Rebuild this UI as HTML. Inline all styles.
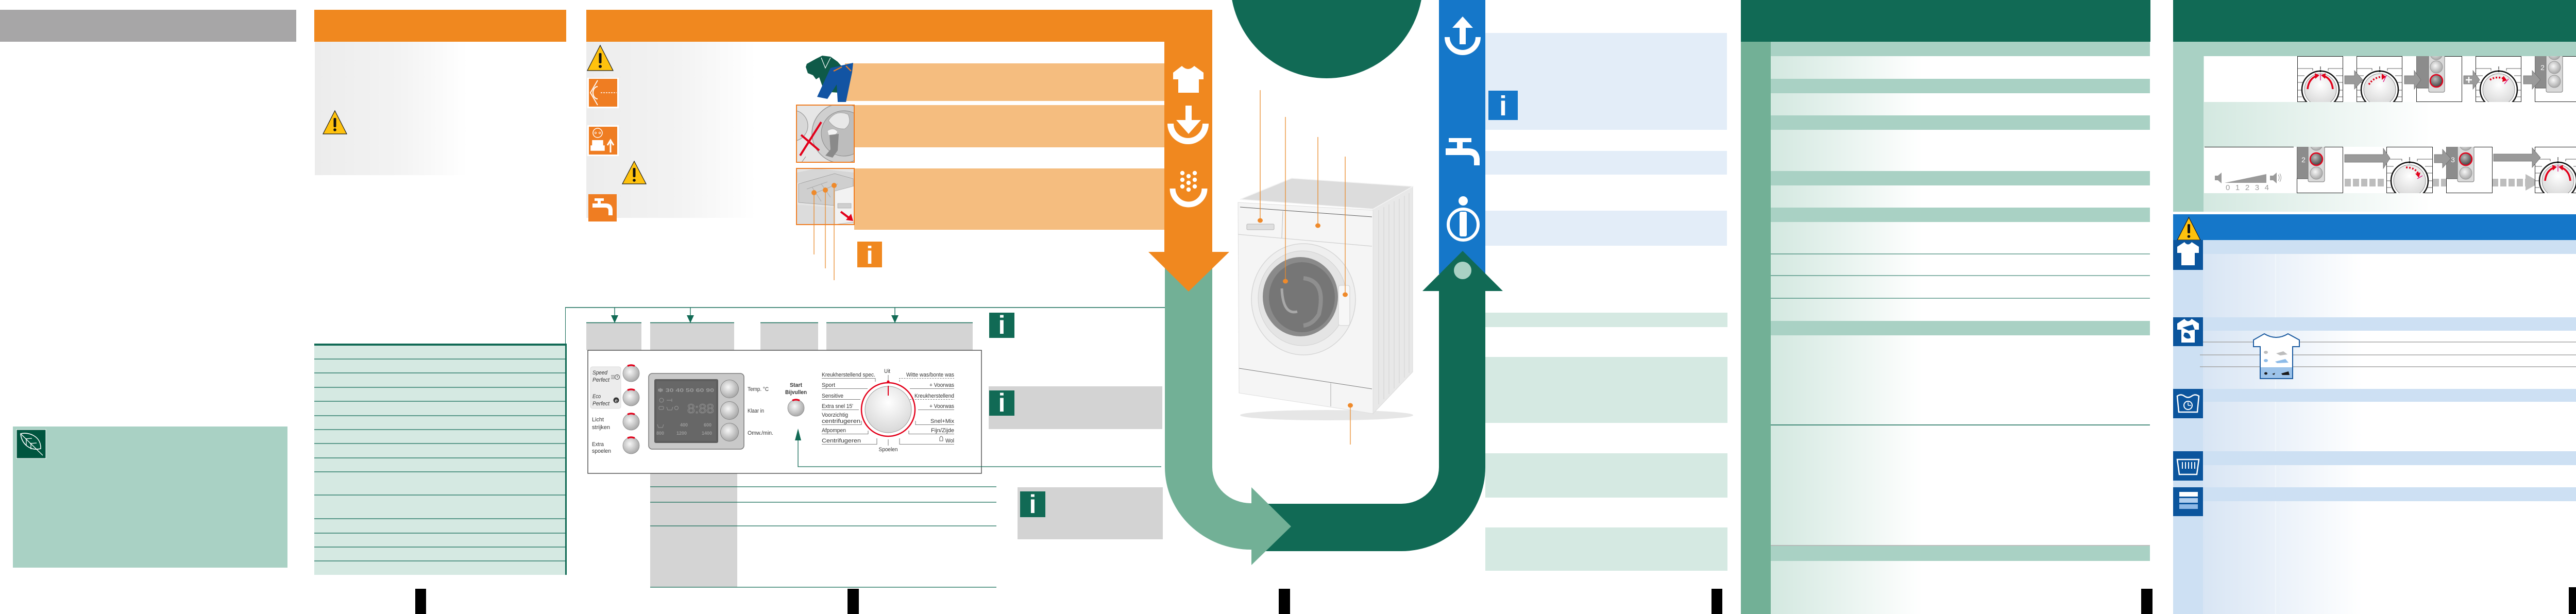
<!DOCTYPE html>
<html><head><meta charset="utf-8"><style>
html,body{margin:0;padding:0;background:#fff;}
svg{display:block;}
text{font-family:"Liberation Sans Narrow","Liberation Sans",sans-serif;}
</style></head><body>
<svg width="5040" height="1192" viewBox="0 0 5040 1192" xmlns="http://www.w3.org/2000/svg">
<defs>
<linearGradient id="gGray" x1="0" x2="1" y1="0" y2="0"><stop offset="0" stop-color="#ececec"/><stop offset="0.55" stop-color="#f3f3f3"/><stop offset="1" stop-color="#ffffff"/></linearGradient>
<linearGradient id="gGreen" x1="0" x2="1" y1="0" y2="0"><stop offset="0" stop-color="#d3e8e0"/><stop offset="0.4" stop-color="#ffffff"/><stop offset="1" stop-color="#ffffff"/></linearGradient>
<linearGradient id="gGreen2" x1="0" x2="1" y1="0" y2="0"><stop offset="0" stop-color="#d3e8e0"/><stop offset="0.6" stop-color="#ffffff"/><stop offset="1" stop-color="#ffffff"/></linearGradient>
<linearGradient id="gBlue" x1="0" x2="1" y1="0" y2="0"><stop offset="0" stop-color="#d8e5f4"/><stop offset="0.42" stop-color="#ffffff"/><stop offset="1" stop-color="#ffffff"/></linearGradient>
<radialGradient id="btn" cx="0.42" cy="0.4" r="0.7"><stop offset="0" stop-color="#f7f7f7"/><stop offset="1" stop-color="#9c9c9c"/></radialGradient>
<radialGradient id="knob" cx="0.5" cy="0.35" r="0.75"><stop offset="0" stop-color="#ffffff"/><stop offset="1" stop-color="#d2d2d2"/></radialGradient>
<radialGradient id="dbtn" cx="0.4" cy="0.35" r="0.7"><stop offset="0" stop-color="#bdbdbd"/><stop offset="1" stop-color="#3c3c3c"/></radialGradient>
</defs>

<!-- ============ PANEL 1 ============ -->
<rect x="0" y="19" width="575" height="62" fill="#a7a6a7"/>
<rect x="25" y="828" width="533" height="274" fill="#a9d1c4"/>
<rect x="32" y="834" width="57" height="56" fill="#00553f" stroke="#ffffff" stroke-width="1"/>
<path d="M40,842 C56,838 80,847 79,871 C58,876 42,862 40,842 Z" fill="none" stroke="#fff" stroke-width="1.6"/>
<path d="M41,843 L83,884 M51,852 L51,864 M60,860 L60,872 M49,852 L62,851 M58,861 L71,860" fill="none" stroke="#fff" stroke-width="1.3"/>

<!-- ============ PANEL 2 ============ -->
<rect x="610" y="19" width="489" height="62" fill="#f0881f"/>
<rect x="611" y="81" width="297" height="259" fill="url(#gGray)"/>
<polygon points="650,215 673,260 627,260" fill="#ffc20e" stroke="#1a1a1a" stroke-width="1.2"/>
<rect x="647.5" y="229" width="5" height="18" rx="2" fill="#111"/>
<circle cx="650" cy="252" r="2.8" fill="#111"/>
<line x1="1097.5" y1="597" x2="1097.5" y2="669" stroke="#116a55" stroke-width="1"/>
<rect x="610" y="669" width="489" height="447" fill="#d5e9e2"/>
<rect x="610" y="667" width="490" height="4" fill="#116a55"/>
<rect x="1097" y="667" width="3" height="449" fill="#116a55"/>
<g stroke="#116a55" stroke-width="1.2">
<line x1="610" y1="697" x2="1097" y2="697"/><line x1="610" y1="724" x2="1097" y2="724"/>
<line x1="610" y1="752" x2="1097" y2="752"/><line x1="610" y1="779" x2="1097" y2="779"/>
<line x1="610" y1="807" x2="1097" y2="807"/><line x1="610" y1="834" x2="1097" y2="834"/>
<line x1="610" y1="861" x2="1097" y2="861"/><line x1="610" y1="889" x2="1097" y2="889"/>
<line x1="610" y1="916" x2="1097" y2="916"/><line x1="610" y1="961" x2="1097" y2="961"/>
<line x1="610" y1="1007" x2="1097" y2="1007"/><line x1="610" y1="1035" x2="1097" y2="1035"/>
<line x1="610" y1="1062" x2="1097" y2="1062"/><line x1="610" y1="1089" x2="1097" y2="1089"/>
</g>
<rect x="806" y="1143" width="21" height="49" fill="#000"/>

<!-- ============ PANEL 3 ============ -->
<rect x="1138" y="19" width="1215" height="62" fill="#f0881f"/>
<rect x="1138" y="81" width="330" height="342" fill="url(#gGray)"/>
<!-- icons -->
<polygon points="1165,88 1190,137 1140,137" fill="#ffc20e" stroke="#1a1a1a" stroke-width="1.2"/>
<rect x="1162.5" y="103" width="5" height="20" rx="2" fill="#111"/>
<circle cx="1165" cy="129" r="3" fill="#111"/>
<rect x="1140" y="151" width="61" height="59" fill="#fff"/>
<rect x="1143" y="153" width="55" height="54" fill="#ef7d22"/>
<path d="M1160,156 L1146,180 L1160,204" fill="none" stroke="#fff" stroke-width="1.8"/>
<path d="M1160,168 A9,12 0 0 0 1160,192" fill="none" stroke="#fff" stroke-width="2"/>
<line x1="1166" y1="180" x2="1197" y2="180" stroke="#fff" stroke-width="1.5" stroke-dasharray="3,2"/>
<rect x="1140" y="243" width="61" height="60" fill="#fff"/>
<rect x="1143" y="246" width="55" height="54" fill="#ef7d22"/>
<circle cx="1160" cy="258" r="9" fill="none" stroke="#fff" stroke-width="1.5"/>
<circle cx="1156" cy="258" r="1.6" fill="none" stroke="#fff"/><circle cx="1164" cy="258" r="1.6" fill="none" stroke="#fff"/>
<path d="M1150,272 V283 H1170 V272 M1147,283 H1173 V292 H1147 Z" fill="#fff" stroke="#fff" stroke-width="1.5"/>
<path d="M1185,296 V276 M1179,282 L1185,272 L1191,282" fill="none" stroke="#fff" stroke-width="3"/>
<polygon points="1231,313 1254,357 1208,357" fill="#ffc20e" stroke="#1a1a1a" stroke-width="1.2"/>
<rect x="1228.5" y="326" width="5" height="18" rx="2" fill="#111"/>
<circle cx="1231" cy="350" r="2.8" fill="#111"/>
<rect x="1142" y="377" width="55" height="53" fill="#ef7d22"/>
<path d="M1154,385 H1172 V390 H1166 V395 H1176 Q1188,395 1189,407 V418 H1181 V409 Q1181,403 1175,403 H1150 V395 H1160 V390 H1154 Z" fill="#fff"/>
<!-- light orange bars -->
<rect x="1640" y="123" width="621" height="73" fill="#f5bd7f"/>
<rect x="1657" y="204" width="604" height="82" fill="#f5bd7f"/>
<rect x="1658" y="327" width="603" height="119" fill="#f5bd7f"/>
<!-- clothes -->
<polygon points="1566,124 1584,114 1596,108 1612,110 1626,120 1642,138 1632,146 1628,180 1600,178 1590,150 1584,154 1578,146 1568,142 1564,130" fill="#0e5a48"/>
<polyline points="1594,112 1602,132 1612,112" fill="none" stroke="#fff" stroke-width="1.2"/>
<polygon points="1612,132 1656,122 1654,140 1642,198 1626,198 1624,164 1606,192 1586,188" fill="#1254a3"/>
<path d="M1618,138 L1634,130 M1642,128 L1652,138" stroke="#ef7d22" stroke-width="2.2"/>
<!-- image 2 -->
<svg x="1546" y="204" width="112" height="111" overflow="hidden">
<rect x="0" y="0" width="112" height="111" fill="#e6e6e6"/>
<circle cx="-8" cy="40" r="30" fill="#d8d8d8" stroke="#9a9a9a" stroke-width="1.2"/>
<circle cx="88" cy="55" r="58" fill="#cfcfcf" stroke="#9a9a9a" stroke-width="1.5"/>
<circle cx="92" cy="55" r="44" fill="#bdbdbd" stroke="#8a8a8a"/>
<path d="M62,30 Q76,8 100,18 Q108,36 94,46 Q74,48 62,30 Z" fill="#e8e8e8" stroke="#999" stroke-width="0.8"/>
<path d="M60,50 Q72,42 80,52 Q74,62 62,58 Z" fill="#f2f2f2" stroke="#aaa" stroke-width="0.6"/>
<path d="M64,58 L82,56 L80,88 L70,102 L56,98 L66,86 Z" fill="#8a8a8a"/>
<line x1="18" y1="100" x2="10" y2="111" stroke="#888"/>
<path d="M7,98 L48,33 M9,58 L44,88" stroke="#e2001a" stroke-width="4" fill="none"/>
</svg>
<rect x="1546" y="204" width="112" height="111" fill="none" stroke="#ef7d22" stroke-width="2"/>
<!-- image 3 -->
<svg x="1546" y="327" width="112" height="109" overflow="hidden">
<rect x="0" y="0" width="112" height="109" fill="#e4e4e4"/>
<polygon points="0,8 40,0 112,8 112,20 0,28" fill="#d6d6d6"/>
<polygon points="4,30 74,10 110,20 110,42 74,72 4,66" fill="#cfcfcf" stroke="#999" stroke-width="0.8"/>
<path d="M20,40 L60,26 M36,48 L80,30 M30,36 L48,64 M48,30 L66,56" stroke="#aaa" stroke-width="1" fill="none"/>
<polygon points="74,44 112,34 112,104 74,109" fill="#f2f2f2" stroke="#aaa" stroke-width="0.8"/>
<polygon points="0,70 74,76 74,109 0,109" fill="#dcdcdc"/>
<rect x="80" y="68" width="26" height="9" fill="#cfcfcf" stroke="#999" stroke-width="0.6"/>
<path d="M86,84 L102,96" stroke="#e2001a" stroke-width="4"/>
<polygon points="96,100 110,102 106,88" fill="#e2001a"/>
</svg>
<rect x="1546" y="327" width="112" height="109" fill="none" stroke="#ef7d22" stroke-width="2"/>
<g stroke="#e98a2b" stroke-width="1.3"><line x1="1580" y1="374" x2="1580" y2="494"/><line x1="1602" y1="369" x2="1602" y2="521"/><line x1="1619" y1="360" x2="1619" y2="544"/></g>
<g fill="#ef8a2b"><circle cx="1580" cy="374" r="5"/><circle cx="1602" cy="369" r="5"/><circle cx="1619" cy="360" r="5"/></g>
<rect x="1664" y="469" width="48" height="50" fill="#f0881f"/>
<text x="1688" y="512" font-family="Liberation Serif" font-weight="bold" font-size="48" fill="#fff" text-anchor="middle">i</text>
<!-- connector line and arrows -->
<line x1="1097" y1="597" x2="2261" y2="597" stroke="#116a55" stroke-width="1.5"/>
<g stroke="#116a55" stroke-width="1.3"><line x1="1193" y1="597" x2="1193" y2="615"/><line x1="1340" y1="597" x2="1340" y2="615"/><line x1="1737" y1="597" x2="1737" y2="615"/></g>
<g fill="#116a55"><polygon points="1186,612 1200,612 1193,627"/><polygon points="1333,612 1347,612 1340,627"/><polygon points="1730,612 1744,612 1737,627"/></g>
<!-- gray header boxes -->
<g fill="#d4d4d4"><rect x="1138" y="626" width="107" height="54"/><rect x="1262" y="626" width="163" height="54"/><rect x="1476" y="626" width="112" height="54"/><rect x="1604" y="626" width="284" height="54"/></g>
<g stroke="#116a55" stroke-width="1.5"><line x1="1138" y1="626.5" x2="1245" y2="626.5"/><line x1="1262" y1="626.5" x2="1425" y2="626.5"/><line x1="1476" y1="626.5" x2="1588" y2="626.5"/><line x1="1604" y1="626.5" x2="1888" y2="626.5"/></g>
<!-- table below panel -->
<rect x="1262" y="919" width="169" height="221" fill="#d4d4d4"/>
<g stroke="#116a55" stroke-width="1.2"><line x1="1262" y1="945" x2="1934" y2="945"/><line x1="1262" y1="975" x2="1934" y2="975"/><line x1="1262" y1="1021" x2="1934" y2="1021"/><line x1="1262" y1="1140" x2="1934" y2="1140"/></g>
<!-- control panel -->
<rect x="1141" y="680" width="764" height="239" fill="#fff" stroke="#3a3a3a" stroke-width="1.3"/>
<rect x="1146" y="712" width="59" height="81" rx="4" fill="#ececec" stroke="#dcdcdc"/>
<g font-size="11" fill="#333">
<text x="1150" y="727" font-style="italic" textLength="29" lengthAdjust="spacingAndGlyphs">Speed</text>
<text x="1150" y="741" font-style="italic" textLength="33" lengthAdjust="spacingAndGlyphs">Perfect</text>
<text x="1150" y="773" font-style="italic" textLength="16" lengthAdjust="spacingAndGlyphs">Eco</text>
<text x="1150" y="787" font-style="italic" textLength="33" lengthAdjust="spacingAndGlyphs">Perfect</text>
<text x="1149" y="818" textLength="23" lengthAdjust="spacingAndGlyphs">Licht</text>
<text x="1149" y="833" textLength="35" lengthAdjust="spacingAndGlyphs">strijken</text>
<text x="1149" y="866" textLength="23" lengthAdjust="spacingAndGlyphs">Extra</text>
<text x="1149" y="879" textLength="37" lengthAdjust="spacingAndGlyphs">spoelen</text>
</g>
<circle cx="1198" cy="732" r="4.5" fill="none" stroke="#444" stroke-width="1"/>
<path d="M1186,729 H1193 M1186,732 H1193 M1186,735 H1193 M1198,729 V732 H1200" stroke="#444" stroke-width="0.8" fill="none"/>
<circle cx="1196" cy="777" r="5.5" fill="#333"/>
<text x="1196" y="781" font-size="10" fill="#fff" text-anchor="middle">e</text>
<g stroke="#8a8a8a" stroke-width="0.8" fill="url(#btn)"><circle cx="1225" cy="725" r="16"/><circle cx="1225" cy="772" r="16"/><circle cx="1225" cy="819" r="16"/><circle cx="1225" cy="865" r="16"/><circle cx="1545" cy="792" r="16"/></g>
<g stroke="#e2001a" stroke-width="3.2" fill="none"><path d="M1218,710.6 A16,16 0 0 1 1232,710.6"/><path d="M1218,757.6 A16,16 0 0 1 1232,757.6"/><path d="M1218,804.6 A16,16 0 0 1 1232,804.6"/><path d="M1218,850.6 A16,16 0 0 1 1232,850.6"/><path d="M1538,777.6 A16,16 0 0 1 1552,777.6"/></g>
<!-- display -->
<rect x="1259" y="725" width="185" height="147" rx="7" fill="#c9c9c9" stroke="#7a7a7a" stroke-width="1.5"/>
<rect x="1270" y="736" width="124" height="124" rx="3" fill="#5d5d5d"/>
<rect x="1274" y="740" width="116" height="116" fill="#676767"/>
<g font-size="10" fill="#9b9b9b" font-weight="bold" font-family="Liberation Sans, DejaVu Sans, sans-serif">
<text x="1276" y="761" textLength="110" lengthAdjust="spacingAndGlyphs">❄ 30 40 50 60 90</text>
<text x="1320" y="828" font-size="9">400</text><text x="1366" y="828" font-size="9">600</text>
<text x="1274" y="844" font-size="9">800</text><text x="1313" y="844" font-size="9">1200</text><text x="1362" y="844" font-size="9">1400</text>
</g>
<text x="1334" y="802" font-family="Liberation Mono, monospace" font-size="25" fill="none" stroke="#8e8e8e" stroke-width="1" textLength="52" lengthAdjust="spacingAndGlyphs">8:88</text>
<g stroke="#999" fill="none" stroke-width="1"><circle cx="1284" cy="777" r="4"/><path d="M1294,777 H1304 M1304,774 V780"/><rect x="1279" y="789" width="9" height="6" rx="2"/><path d="M1294,790 L1296,796 H1304 L1306,790"/><circle cx="1313" cy="792" r="3.5"/><path d="M1276,824 L1278,830 H1286 L1288,824"/></g>
<g stroke="#7a7a7a" stroke-width="0.8" fill="url(#btn)"><circle cx="1416" cy="755" r="17.5"/><circle cx="1416" cy="797" r="17.5"/><circle cx="1416" cy="839" r="17.5"/></g>
<g font-size="11" fill="#333">
<text x="1451" y="759" textLength="41" lengthAdjust="spacingAndGlyphs">Temp. °C</text>
<text x="1451" y="801" textLength="32" lengthAdjust="spacingAndGlyphs">Klaar in</text>
<text x="1451" y="844" textLength="50" lengthAdjust="spacingAndGlyphs">Omw./min.</text>
<text x="1545" y="751" font-weight="bold" text-anchor="middle" textLength="24" lengthAdjust="spacingAndGlyphs">Start</text>
<text x="1545" y="765" font-weight="bold" text-anchor="middle" textLength="42" lengthAdjust="spacingAndGlyphs">Bijvullen</text>
</g>
<!-- dial -->
<circle cx="1724" cy="795" r="52" fill="#fff" stroke="#e2001a" stroke-width="2.5"/>
<circle cx="1724" cy="795" r="45" fill="url(#knob)" stroke="#9a9a9a" stroke-width="1"/>
<line x1="1724" y1="749" x2="1724" y2="768" stroke="#e2001a" stroke-width="2"/>
<circle cx="1724" cy="741" r="2.6" fill="#e2001a"/>
<g font-size="11" fill="#333">
<text x="1595" y="731" textLength="104" lengthAdjust="spacingAndGlyphs">Kreukherstellend spec.</text>
<text x="1595" y="751" textLength="26" lengthAdjust="spacingAndGlyphs">Sport</text>
<text x="1595" y="772" textLength="42" lengthAdjust="spacingAndGlyphs">Sensitive</text>
<text x="1595" y="792" textLength="61" lengthAdjust="spacingAndGlyphs">Extra snel 15'</text>
<text x="1595" y="809" textLength="51" lengthAdjust="spacingAndGlyphs">Voorzichtig</text>
<text x="1595" y="821" textLength="75" lengthAdjust="spacingAndGlyphs">centrifugeren</text>
<text x="1595" y="839" textLength="47" lengthAdjust="spacingAndGlyphs">Afpompen</text>
<text x="1595" y="859" textLength="76" lengthAdjust="spacingAndGlyphs">Centrifugeren</text>
<text x="1852" y="731" text-anchor="end" textLength="93" lengthAdjust="spacingAndGlyphs">Witte was/bonte was</text>
<text x="1852" y="751" text-anchor="end" textLength="48" lengthAdjust="spacingAndGlyphs">+ Voorwas</text>
<text x="1852" y="772" text-anchor="end" textLength="77" lengthAdjust="spacingAndGlyphs">Kreukherstellend</text>
<text x="1852" y="792" text-anchor="end" textLength="48" lengthAdjust="spacingAndGlyphs">+ Voorwas</text>
<text x="1852" y="821" text-anchor="end" textLength="46" lengthAdjust="spacingAndGlyphs">Snel+Mix</text>
<text x="1852" y="839" text-anchor="end" textLength="45" lengthAdjust="spacingAndGlyphs">Fijn/Zijde</text>
<text x="1852" y="859" text-anchor="end" textLength="17" lengthAdjust="spacingAndGlyphs">Wol</text>
<text x="1722" y="724" text-anchor="middle" textLength="12" lengthAdjust="spacingAndGlyphs">Uit</text>
<text x="1724" y="876" text-anchor="middle" textLength="37" lengthAdjust="spacingAndGlyphs">Spoelen</text>
</g>
<path d="M1824,850 q3,-6 6,0 v6 h-6 z" fill="none" stroke="#333" stroke-width="0.8"/>
<g stroke="#555" stroke-width="0.8" fill="none">
<path d="M1595,734.5 H1699 V741"/><path d="M1595,754.5 H1684"/><path d="M1595,775.5 H1670"/><path d="M1595,795.5 H1667"/>
<path d="M1595,824.5 H1672 V817"/><path d="M1595,842.5 H1685 V836"/><path d="M1595,862.5 H1702 V851"/>
<path d="M1724,728 V738"/><path d="M1724,853 V865"/>
<path d="M1766,754.5 H1852"/><path d="M1782,795.5 H1852"/>
<path d="M1777,817 V824.5 H1852"/><path d="M1764,836 V842.5 H1852"/><path d="M1746,851 V862.5 H1852"/>
</g>
<g stroke="#555" stroke-width="0.8" fill="none" stroke-dasharray="3,2"><path d="M1746,741 V734.5 H1852"/><path d="M1766,775.5 H1852"/></g>
<!-- connector from start button -->
<polygon points="1549,832 1543,855 1555,855" fill="#116a55"/>
<path d="M1549,855 V906 H2254" fill="none" stroke="#116a55" stroke-width="1.3"/>
<!-- info boxes -->
<rect x="1920" y="607" width="49" height="49" fill="#116a55"/>
<text x="1944.5" y="648" font-family="Liberation Serif" font-weight="bold" font-size="50" fill="#fff" text-anchor="middle">i</text>
<rect x="1919" y="750" width="337" height="83" fill="#d3d3d3"/>
<rect x="1920" y="758" width="49" height="49" fill="#116a55"/>
<text x="1944.5" y="799" font-family="Liberation Serif" font-weight="bold" font-size="50" fill="#fff" text-anchor="middle">i</text>
<rect x="1975" y="946" width="282" height="101" fill="#d3d3d3"/>
<rect x="1980" y="954" width="49" height="50" fill="#116a55"/>
<text x="2004.5" y="996" font-family="Liberation Serif" font-weight="bold" font-size="50" fill="#fff" text-anchor="middle">i</text>
<rect x="1645" y="1143" width="22" height="49" fill="#000"/>

<!-- ============ FLOW ARROWS / PANEL 4 ============ -->
<circle cx="2575" cy="-35" r="187" fill="#116a55"/>
<rect x="2793" y="0" width="90" height="532" fill="#1577c9"/>
<path d="M2440,978 L2720,978 A73,71 0 0 0 2793,907 L2793,560 L2883,560 L2883,907 A163,163 0 0 1 2720,1070 L2440,1070 Z" fill="#116a55"/>
<polygon points="2761,565 2917,565 2839,487" fill="#116a55"/>
<circle cx="2839" cy="525" r="17" fill="#a9d1c4"/>
<path d="M2261,520 L2353,520 L2353,907 A75,70 0 0 0 2428,977 L2432,977 L2432,1067 L2428,1067 A167,160 0 0 1 2261,907 Z" fill="#72b096"/>
<polygon points="2429,946 2429,1097 2506,1022" fill="#72b096"/>
<rect x="2260" y="19" width="93" height="471" fill="#f0881f"/>
<polygon points="2229,489 2386,489 2307,566" fill="#f0881f"/>
<!-- orange icons -->
<path d="M2277,141 L2294,128 Q2306,140 2318,128 L2336,141 L2336,154 L2327,154 L2327,180 L2287,180 L2287,154 L2277,154 Z" fill="#fff"/>
<path d="M2272,240 A34,34 0 0 0 2340,240" fill="none" stroke="#fff" stroke-width="12"/>
<rect x="2301" y="205" width="12" height="32" fill="#fff"/>
<polygon points="2283,233 2331,233 2307,260" fill="#fff"/>
<path d="M2276,366 A31,31 0 0 0 2338,366" fill="none" stroke="#fff" stroke-width="11"/>
<g fill="#fff"><circle cx="2295" cy="336" r="4.2"/><circle cx="2319" cy="336" r="4.2"/><circle cx="2307" cy="342" r="4.2"/><circle cx="2295" cy="349" r="4.2"/><circle cx="2319" cy="349" r="4.2"/><circle cx="2307" cy="355" r="4.2"/><circle cx="2295" cy="362" r="4.2"/><circle cx="2319" cy="362" r="4.2"/><circle cx="2307" cy="368" r="4.2"/></g>
<!-- blue icons -->
<path d="M2809,72 A30,30 0 0 0 2869,72" fill="none" stroke="#fff" stroke-width="10"/>
<rect x="2833" y="48" width="12" height="38" fill="#fff"/>
<polygon points="2819,54 2859,54 2839,32" fill="#fff"/>
<path d="M2812,268 H2856 V276 H2839 V288 H2850 Q2870,288 2872,308 V321 H2861 V309 Q2860,301 2851,301 H2806 V288 H2828 V276 H2812 Z" fill="#fff"/>
<circle cx="2840" cy="390" r="9" fill="#fff"/>
<ellipse cx="2840" cy="436" rx="29" ry="30" fill="none" stroke="#fff" stroke-width="6"/>
<rect x="2833" y="411" width="14" height="48" rx="3" fill="#fff"/>
<!-- washing machine -->
<ellipse cx="2575" cy="806" rx="168" ry="10" fill="#e6e6e6"/>
<polygon points="2665,405 2742,362 2742,722 2665,803" fill="#e8e8e8" stroke="#dcdcdc"/>
<g stroke="#d2d2d2" stroke-width="1"><line x1="2676" y1="408" x2="2676" y2="785"/><line x1="2686" y1="402" x2="2686" y2="775"/><line x1="2696" y1="397" x2="2696" y2="765"/><line x1="2706" y1="391" x2="2706" y2="754"/><line x1="2716" y1="386" x2="2716" y2="744"/><line x1="2726" y1="380" x2="2726" y2="733"/><line x1="2735" y1="375" x2="2735" y2="724"/></g>
<polygon points="2407,387 2507,346 2742,362 2665,406" fill="#dcdcdc" stroke="#f4f4f4" stroke-width="1.5"/>
<polygon points="2403,393 2665,408 2665,803 2405,763" fill="#f5f5f5" stroke="#dedede"/>
<line x1="2407" y1="402" x2="2663" y2="421" stroke="#555" stroke-width="1"/>
<line x1="2403" y1="455" x2="2663" y2="478" stroke="#cfcfcf" stroke-width="1.2"/>
<line x1="2490" y1="410" x2="2488" y2="462" stroke="#bbb"/>
<rect x="2420" y="435" width="53" height="11" rx="2" fill="#dedede" stroke="#b5b5b5"/>
<ellipse cx="2530" cy="581" rx="101" ry="108" fill="#efefef" stroke="#d6d6d6" stroke-width="1.5"/>
<ellipse cx="2528" cy="579" rx="86" ry="92" fill="#e4e4e4" stroke="#d0d0d0"/>
<ellipse cx="2524" cy="576" rx="73" ry="77" fill="#8a8a8a"/>
<ellipse cx="2527" cy="577" rx="64" ry="68" fill="#767676"/>
<path d="M2488,560 Q2490,612 2518,605" fill="none" stroke="#a8a8a8" stroke-width="5"/>
<path d="M2530,540 Q2575,545 2560,610 Q2548,630 2530,632" fill="none" stroke="#8f8f8f" stroke-width="8"/>
<rect x="2598" y="554" width="22" height="78" rx="4" fill="#f7f7f7" stroke="#cfcfcf"/>
<line x1="2405" y1="715" x2="2663" y2="755" stroke="#777" stroke-width="1"/>
<line x1="2583" y1="744" x2="2583" y2="789" stroke="#aaa"/>
<g stroke="#e98a2b" stroke-width="1.3"><line x1="2446" y1="175" x2="2446" y2="428"/><line x1="2495" y1="227" x2="2495" y2="546"/><line x1="2558" y1="266" x2="2558" y2="438"/><line x1="2611" y1="304" x2="2611" y2="572"/><line x1="2621" y1="787" x2="2621" y2="863"/></g>
<g fill="#ef8a2b"><ellipse cx="2446" cy="428" rx="5" ry="4.5"/><ellipse cx="2495" cy="546" rx="5" ry="4.5"/><ellipse cx="2558" cy="438" rx="5" ry="4.5"/><ellipse cx="2611" cy="572" rx="5" ry="4.5"/><ellipse cx="2621" cy="787" rx="5" ry="4.5"/></g>
<rect x="2482" y="1143" width="22" height="49" fill="#000"/>

<!-- ============ PANEL 5 ============ -->
<rect x="2883" y="64" width="469" height="188" fill="#e3edf8"/>
<rect x="2889" y="176" width="57" height="57" fill="#1577c9"/>
<text x="2917.5" y="224" font-family="Liberation Serif" font-weight="bold" font-size="54" fill="#fff" text-anchor="middle">i</text>
<rect x="2883" y="293" width="469" height="46" fill="#e3edf8"/>
<rect x="2883" y="409" width="469" height="68" fill="#e3edf8"/>
<rect x="2883" y="607" width="470" height="28" fill="#d5e9e2"/>
<rect x="2883" y="693" width="470" height="128" fill="#d5e9e2"/>
<rect x="2883" y="880" width="470" height="86" fill="#d5e9e2"/>
<rect x="2883" y="1024" width="470" height="84" fill="#d5e9e2"/>
<rect x="3322" y="1143" width="21" height="49" fill="#000"/>

<!-- ============ PANEL 6 ============ -->
<rect x="3379" y="0" width="795" height="81" fill="#116a55"/>
<rect x="3379" y="81" width="58" height="1111" fill="#72b096"/>
<rect x="3437" y="81" width="736" height="1111" fill="url(#gGreen)"/>
<g fill="#a9d1c4"><rect x="3437" y="81" width="736" height="28"/><rect x="3437" y="153" width="736" height="28"/><rect x="3437" y="224" width="736" height="28"/><rect x="3437" y="332" width="736" height="28"/><rect x="3437" y="403" width="736" height="28"/><rect x="3437" y="623" width="736" height="28"/><rect x="3437" y="1060" width="736" height="29"/></g>
<g stroke="#116a55" stroke-width="1"><line x1="3437" y1="493" x2="4173" y2="493"/><line x1="3437" y1="535" x2="4173" y2="535"/><line x1="3437" y1="579" x2="4173" y2="579"/></g>
<line x1="3437" y1="825" x2="4173" y2="825" stroke="#116a55" stroke-width="1.6"/>
<line x1="3437" y1="1059" x2="4173" y2="1059" stroke="#a8a8a8" stroke-width="1.6"/>
<rect x="4156" y="1143" width="22" height="49" fill="#000"/>

<!-- ============ PANEL 7 ============ -->
<rect x="4218" y="0" width="795" height="81" fill="#116a55"/>
<rect x="4218" y="81" width="793" height="28" fill="#a9d1c4"/>
<rect x="4218" y="109" width="59" height="302" fill="#a9d1c4"/>
<rect x="4277" y="109" width="734" height="302" fill="url(#gGreen2)"/>
<rect x="4278" y="109" width="733" height="89" fill="#fff"/>
<rect x="4278" y="285" width="733" height="90" fill="#fff"/>
<line x1="4279" y1="285.5" x2="4452" y2="285.5" stroke="#111" stroke-width="1"/>
<!-- volume -->
<g fill="#9a9a9a"><rect x="4299" y="341" width="6" height="9"/><polygon points="4305,341 4312,335 4312,356 4305,350"/><polygon points="4318,355 4399,338 4399,355"/><rect x="4406" y="341" width="6" height="9"/><polygon points="4412,341 4419,335 4419,356 4412,350"/></g>
<path d="M4422,339 q4,6 0,12 M4425,337 q5,8 0,16" stroke="#9a9a9a" fill="none"/>
<text x="4320" y="369" font-family="Liberation Sans, sans-serif" font-size="15" fill="#9a9a9a" textLength="84" lengthAdjust="spacing">0 1 2 3 4</text>
<!-- row1 boxes -->
<svg x="4459" y="109" width="89" height="89" overflow="hidden">
<rect x="0.5" y="0.5" width="88" height="88" fill="#fff" stroke="#222"/>
<path d="M0,24 H30 V28 M89,24 H60 V28 M0,38 H14 M0,51 H11 M0,66 H9 M0,79 H9 M75,38 H89 M78,51 H89 M80,66 H89 M80,79 H89" stroke="#333" stroke-width="0.8" fill="none"/>
<circle cx="45" cy="65" r="36" fill="#fff" stroke="#111" stroke-width="2.5"/><circle cx="45" cy="65" r="31" fill="url(#knob)" stroke="#666" stroke-width="0.7"/>
<circle cx="45" cy="29" r="2" fill="#111"/><line x1="45" y1="20" x2="45" y2="26" stroke="#111"/>
<path d="M20,64 Q22,44 38,38" stroke="#e2001a" stroke-width="3.5" fill="none"/><polygon points="34,33 43,37 35,44" fill="#e2001a"/>
<path d="M69,64 Q67,44 51,38" stroke="#e2001a" stroke-width="3.5" fill="none"/><polygon points="55,33 46,37 54,44" fill="#e2001a"/>
<line x1="45" y1="34" x2="45" y2="47" stroke="#e0007a" stroke-width="1.3"/>
</svg>
<svg x="4574" y="109" width="89" height="89" overflow="hidden">
<rect x="0.5" y="0.5" width="88" height="88" fill="#fff" stroke="#222"/>
<path d="M0,24 H30 V28 M89,24 H60 V28 M0,38 H14 M0,51 H11 M0,66 H9 M0,79 H9 M75,38 H89 M78,51 H89 M80,66 H89 M80,79 H89" stroke="#333" stroke-width="0.8" fill="none"/>
<circle cx="45" cy="65" r="36" fill="#fff" stroke="#111" stroke-width="2.5"/><circle cx="45" cy="65" r="31" fill="url(#knob)" stroke="#666" stroke-width="0.7"/>
<circle cx="45" cy="29" r="2" fill="#111"/><line x1="45" y1="20" x2="45" y2="26" stroke="#111"/>
<path d="M24,55 Q34,40 52,40" stroke="#e2001a" stroke-width="3.5" fill="none" stroke-dasharray="3,3"/><polygon points="49,34 57,40 49,46" fill="#e2001a"/>
<line x1="58" y1="37" x2="52" y2="50" stroke="#e0007a" stroke-width="1.3"/>
</svg>
<svg x="4690" y="109" width="89" height="89" overflow="hidden">
<rect x="0.5" y="0.5" width="88" height="88" fill="#fff" stroke="#222"/>
<rect x="0" y="-6" width="28" height="68" rx="3" fill="#8c8c8c" stroke="#555"/>
<rect x="24" y="-6" width="31" height="76" rx="3" fill="#d9d9d9" stroke="#777"/>
<circle cx="39" cy="-5" r="12" fill="url(#btn)" stroke="#999"/><circle cx="39" cy="21" r="12" fill="url(#btn)" stroke="#999"/>
<circle cx="39" cy="48" r="12" fill="url(#dbtn)" stroke="#e2001a" stroke-width="2.5"/>
</svg>
<svg x="4805" y="109" width="89" height="89" overflow="hidden">
<rect x="0.5" y="0.5" width="88" height="88" fill="#fff" stroke="#222"/>
<path d="M0,24 H30 V28 M89,24 H60 V28 M0,38 H14 M0,51 H11 M0,66 H9 M0,79 H9 M75,38 H89 M78,51 H89 M80,66 H89 M80,79 H89" stroke="#333" stroke-width="0.8" fill="none"/>
<circle cx="45" cy="65" r="36" fill="#fff" stroke="#111" stroke-width="2.5"/><circle cx="45" cy="65" r="31" fill="url(#knob)" stroke="#666" stroke-width="0.7"/>
<circle cx="45" cy="29" r="2" fill="#111"/><line x1="45" y1="20" x2="45" y2="26" stroke="#111"/>
<path d="M28,46 Q40,38 56,44" stroke="#e2001a" stroke-width="3.5" fill="none" stroke-dasharray="3,3"/><polygon points="54,38 61,47 52,50" fill="#e2001a"/>
<line x1="64" y1="44" x2="56" y2="54" stroke="#e0007a" stroke-width="1.3"/>
</svg>
<svg x="4920" y="109" width="90" height="89" overflow="hidden">
<rect x="0.5" y="0.5" width="89" height="88" fill="#fff" stroke="#222"/>
<rect x="0" y="-6" width="26" height="68" rx="3" fill="#8c8c8c" stroke="#555"/>
<rect x="22" y="-6" width="32" height="76" rx="3" fill="#d9d9d9" stroke="#777"/>
<text x="15" y="27" font-family="Liberation Sans, sans-serif" font-size="14" fill="#fff" text-anchor="middle">2</text>
<circle cx="38" cy="-5" r="12" fill="url(#btn)" stroke="#999"/><circle cx="38" cy="22" r="12" fill="url(#btn)" stroke="#999"/><circle cx="38" cy="49" r="12" fill="url(#btn)" stroke="#999"/>
</svg>
<g fill="#9a9a9a" stroke="#6e6e6e" stroke-width="0.8">
<polygon points="4551,147 4570,147 4570,137 4586,155 4570,173 4570,163 4551,163"/>
<polygon points="4667,147 4686,147 4686,137 4699,155 4686,173 4686,163 4667,163"/>
<polygon points="4782,147 4800,147 4800,137 4813,155 4800,173 4800,163 4782,163"/>
<polygon points="4898,147 4915,147 4915,137 4931,155 4915,173 4915,163 4898,163"/>
</g>
<path d="M4786,155 H4798 M4792,149 V161" stroke="#fff" stroke-width="2.5"/>
<!-- row2 boxes -->
<g fill="#bdbdbd"><rect x="4551" y="347" width="12" height="15"/><rect x="4567" y="347" width="12" height="15"/><rect x="4583" y="347" width="12" height="15"/><rect x="4599" y="347" width="12" height="15"/><rect x="4615" y="347" width="12" height="15"/><rect x="4722" y="347" width="12" height="15"/><rect x="4738" y="347" width="10" height="15"/><rect x="4837" y="347" width="12" height="15"/><rect x="4853" y="347" width="12" height="15"/><rect x="4869" y="347" width="12" height="15"/><rect x="4885" y="347" width="12" height="15"/><rect x="4901" y="347" width="4" height="15"/><polygon points="4902,338 4931,354 4902,370"/></g>
<svg x="4458" y="285" width="90" height="90" overflow="hidden">
<rect x="0.5" y="0.5" width="89" height="89" fill="#fff" stroke="#222"/>
<rect x="0" y="-8" width="26" height="70" rx="3" fill="#8c8c8c" stroke="#555"/>
<rect x="22" y="-8" width="32" height="76" rx="3" fill="#d9d9d9" stroke="#777"/>
<text x="13" y="30" font-family="Liberation Sans, sans-serif" font-size="14" fill="#fff" text-anchor="middle">2</text>
<circle cx="38" cy="-5" r="12" fill="url(#btn)" stroke="#999"/>
<circle cx="38" cy="24" r="12" fill="url(#dbtn)" stroke="#e2001a" stroke-width="2.5"/>
<circle cx="38" cy="51" r="12" fill="url(#btn)" stroke="#999"/>
</svg>
<svg x="4632" y="285" width="90" height="90" overflow="hidden">
<rect x="0.5" y="0.5" width="89" height="89" fill="#fff" stroke="#222"/>
<path d="M0,24 H30 V28 M89,24 H60 V28 M0,38 H14 M0,51 H11 M0,66 H9 M0,79 H9 M75,38 H89 M78,51 H89 M80,66 H89 M80,79 H89" stroke="#333" stroke-width="0.8" fill="none"/>
<circle cx="45" cy="66" r="36" fill="#fff" stroke="#111" stroke-width="2.5"/><circle cx="45" cy="66" r="31" fill="url(#knob)" stroke="#666" stroke-width="0.7"/>
<circle cx="45" cy="30" r="2" fill="#111"/><line x1="45" y1="20" x2="45" y2="27" stroke="#111"/>
<path d="M38,40 Q55,40 62,52" stroke="#e2001a" stroke-width="3.5" fill="none" stroke-dasharray="3,3"/><polygon points="56,52 66,50 63,60" fill="#e2001a"/>
<line x1="70" y1="56" x2="60" y2="62" stroke="#e0007a" stroke-width="1.3"/>
</svg>
<svg x="4748" y="285" width="90" height="90" overflow="hidden">
<rect x="0.5" y="0.5" width="89" height="89" fill="#fff" stroke="#222"/>
<rect x="0" y="-8" width="26" height="70" rx="3" fill="#8c8c8c" stroke="#555"/>
<rect x="22" y="-8" width="32" height="76" rx="3" fill="#d9d9d9" stroke="#777"/>
<text x="13" y="30" font-family="Liberation Sans, sans-serif" font-size="14" fill="#fff" text-anchor="middle">3</text>
<circle cx="38" cy="-5" r="12" fill="url(#btn)" stroke="#999"/>
<circle cx="38" cy="24" r="12" fill="url(#dbtn)" stroke="#e2001a" stroke-width="2.5"/>
<circle cx="38" cy="51" r="12" fill="url(#btn)" stroke="#999"/>
</svg>
<svg x="4920" y="285" width="90" height="90" overflow="hidden">
<rect x="0.5" y="0.5" width="89" height="89" fill="#fff" stroke="#222"/>
<path d="M0,24 H30 V28 M89,24 H60 V28 M0,38 H14 M0,51 H11 M0,66 H9 M0,79 H9 M75,38 H89 M78,51 H89 M80,66 H89 M80,79 H89" stroke="#333" stroke-width="0.8" fill="none"/>
<circle cx="45" cy="66" r="36" fill="#fff" stroke="#111" stroke-width="2.5"/><circle cx="45" cy="66" r="31" fill="url(#knob)" stroke="#666" stroke-width="0.7"/>
<circle cx="45" cy="30" r="2" fill="#111"/><line x1="45" y1="20" x2="45" y2="27" stroke="#111"/>
<path d="M20,66 Q22,46 38,40" stroke="#e2001a" stroke-width="3.5" fill="none"/><polygon points="34,35 43,39 35,46" fill="#e2001a"/>
<path d="M69,66 Q67,46 51,40" stroke="#e2001a" stroke-width="3.5" fill="none"/><polygon points="55,35 46,39 54,46" fill="#e2001a"/>
<line x1="45" y1="35" x2="45" y2="48" stroke="#e0007a" stroke-width="1.3"/>
</svg>
<g fill="#9a9a9a" stroke="#6e6e6e" stroke-width="0.8">
<polygon points="4551,300 4626,300 4626,288 4639,307 4626,327 4626,315 4551,315"/>
<polygon points="4725,300 4741,300 4741,290 4757,308 4741,326 4741,316 4725,316"/>
<polygon points="4840,299 4915,299 4915,287 4931,306 4915,325 4915,313 4840,313"/>
</g>
<!-- blue section -->
<rect x="4218" y="416" width="797" height="50" fill="#1577c9"/>
<polygon points="4248.5,422 4271,466 4226,466" fill="#ffc20e" stroke="#1a1a1a" stroke-width="1.2"/>
<rect x="4246" y="435" width="5" height="18" rx="2" fill="#111"/>
<circle cx="4248.5" cy="459" r="2.8" fill="#111"/>
<rect x="4218" y="466" width="58" height="726" fill="#cde0f3"/>
<rect x="4276" y="466" width="739" height="726" fill="url(#gBlue)"/>
<line x1="4417" y1="466" x2="4417" y2="1192" stroke="#f3f7fc" stroke-width="1.5"/>
<g fill="#cde0f3"><rect x="4276" y="466" width="739" height="27"/><rect x="4276" y="616" width="739" height="26"/><rect x="4276" y="755" width="739" height="25"/><rect x="4276" y="876" width="739" height="27"/><rect x="4276" y="946" width="739" height="27"/></g>
<g stroke="#a5a5a5" stroke-width="1.5"><line x1="4270" y1="664" x2="5015" y2="664"/><line x1="4270" y1="689" x2="5015" y2="689"/><line x1="4270" y1="712" x2="5015" y2="712"/></g>
<g fill="#0b559d"><rect x="4218" y="466" width="58" height="58"/><rect x="4218" y="616" width="58" height="56"/><rect x="4218" y="755" width="58" height="57"/><rect x="4218" y="876" width="58" height="57"/><rect x="4218" y="946" width="58" height="56"/></g>
<path d="M4226,479 L4240,470 Q4247,479 4254,470 L4268,479 L4268,491 L4260,491 L4260,515 L4234,515 L4234,491 L4226,491 Z" fill="#fff"/>
<path d="M4226,628 L4240,619 Q4247,628 4254,619 L4268,628 L4268,640 L4260,640 L4260,665 L4234,665 L4234,640 L4226,640 Z" fill="#fff"/>
<path d="M4236,636 L4256,630 L4260,640 L4248,642 Z M4240,646 Q4250,644 4252,656 Q4244,660 4238,652 Z" fill="#0b559d"/>
<path d="M4226,769 Q4233,764 4240,769 Q4247,774 4254,769 Q4261,764 4268,769 L4265,800 L4229,800 Z" fill="none" stroke="#fff" stroke-width="2.5"/>
<circle cx="4247" cy="787" r="8" fill="none" stroke="#fff" stroke-width="2"/>
<path d="M4247,787 V781 M4247,787 H4253" stroke="#fff" stroke-width="1.5"/>
<path d="M4226,892 L4268,892 L4264,921 L4230,921 Z" fill="none" stroke="#fff" stroke-width="2.5"/>
<path d="M4236,897 V910 M4242,897 V910 M4248,897 V910 M4254,897 V910 M4260,897 V910" stroke="#fff" stroke-width="2"/>
<rect x="4230" y="955" width="36" height="9" fill="#fff"/>
<rect x="4230" y="967" width="36" height="9" fill="#b2cfee"/>
<rect x="4230" y="979" width="36" height="9" fill="#8fb9e6"/>
<!-- t-shirt figure -->
<path d="M4374,660 L4395,648 Q4418,662 4441,648 L4463,660 L4463,673 L4450,673 L4450,735 L4387,735 L4387,673 L4374,673 Z" fill="#fff" stroke="#1a5aa0" stroke-width="2"/>
<rect x="4388" y="713" width="61" height="21" fill="#9cc3ea"/>
<g fill="#bdbdbd"><ellipse cx="4398" cy="684" rx="4" ry="3"/><path d="M4418,686 L4432,682 L4440,688 L4426,690 Z"/></g>
<g fill="#8dbbe8"><ellipse cx="4398" cy="700" rx="4" ry="3"/><path d="M4416,702 L4436,697 L4442,704 L4420,705 Z"/></g>
<g fill="#1a1a1a"><ellipse cx="4398" cy="725" rx="3" ry="2.5"/><path d="M4410,726 L4416,724 L4414,728 Z M4428,725 L4442,721 L4444,728 L4430,728 Z"/></g>
<rect x="4986" y="1140" width="20" height="52" fill="#000"/>
</svg>
</body></html>
